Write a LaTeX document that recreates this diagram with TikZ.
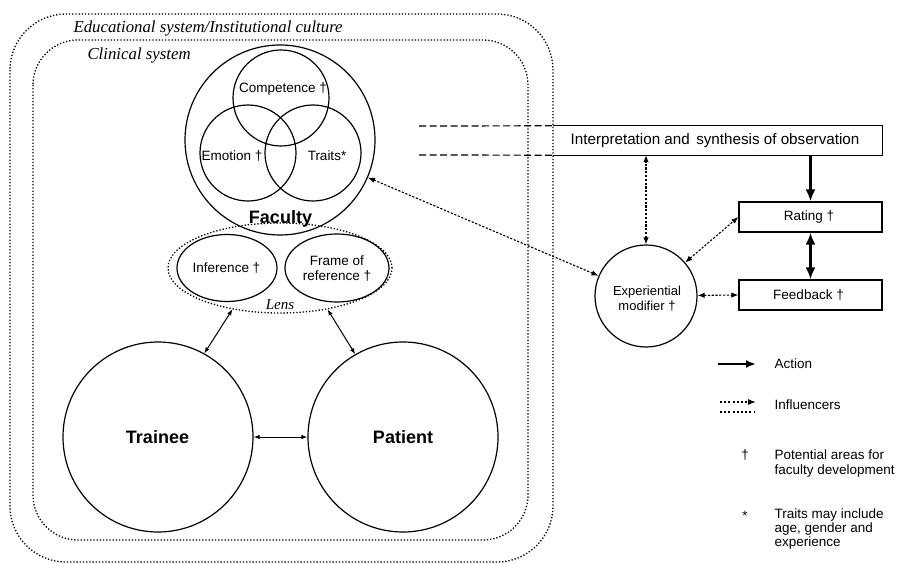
\documentclass[tikz,border=0pt]{standalone}
\usepackage{fontspec}
\setmainfont{Liberation Sans}
\newfontfamily\serifit{Liberation Serif}
\usetikzlibrary{shapes.geometric,arrows.meta}
\begin{document}
\begin{tikzpicture}[x=1pt,y=-1pt,
  sysbox/.style={line width=1.3pt, dash pattern=on 1.3pt off 1.9pt},
  ring/.style={circle, draw, line width=1.2pt, inner sep=0pt},
  oval/.style={ellipse, draw, line width=1.2pt, inner sep=0pt},
  boxn/.style={rectangle, draw, line width=1.2pt, inner sep=0pt, minimum width=143pt, minimum height=30pt},
  inf/.style={line width=1.1pt, dash pattern=on 2.2pt off 1.6pt, {Latex[length=7pt,width=5.5pt]}-{Latex[length=7pt,width=5.5pt]}},
  dotline/.style={line width=1.3pt, dash pattern=on 2pt off 2.2pt},
  dashline/.style={line width=1.2pt, dash pattern=on 7pt off 3.5pt},
  thinarr/.style={line width=1pt, {Latex[length=6pt,width=4.5pt]}-{Latex[length=6pt,width=4.5pt]}},
  lbl/.style={font=\fontsize{13.5}{15}\selectfont},
  sml/.style={font=\fontsize{13}{14.5}\selectfont},
  big/.style={font=\fontsize{18}{20}\selectfont\bfseries},
  sysl/.style={font=\fontsize{16.8}{19}\selectfont\serifit\itshape}
]
\useasboundingbox (0,0) rectangle (897,564);

% system boxes
\draw[sysbox, rounded corners=56pt] (10,14) rectangle (553,562);
\draw[sysbox, rounded corners=45pt] (33,40) rectangle (528,540);
\node[sysl, anchor=west] (edu) at (70,28) {Educational system/Institutional culture};
\node[sysl, anchor=west] (clin) at (84,55) {Clinical system};

% faculty
\node[ring, minimum size=190pt] (faculty) at (280,140) {};
\node[ring, minimum size=96pt] (comp) at (281,98) {};
\node[ring, minimum size=96pt] (emo) at (248,153) {};
\node[ring, minimum size=96pt] (trait) at (313,153) {};
\node[lbl] (tcomp) at (283,89) {Competence †};
\node[lbl] (temo) at (232,156) {Emotion †};
\node[lbl] (ttrait) at (327,156) {Traits*};
\node[big] (tfac) at (280.5,219) {Faculty};

% lens
\node[oval, minimum width=224pt, minimum height=90pt, draw=none] (lens) at (280,268) {};
\draw[sysbox] (lens.center) ellipse [x radius=112pt, y radius=45pt];
\node[oval, minimum width=100pt, minimum height=67pt] (infer) at (227,268) {};
\node[oval, minimum width=104pt, minimum height=68pt] (frame) at (337,268) {};
\node[lbl] (tinfer) at (226.5,268) {Inference †};
\node[lbl, align=center] (tframe) at (337,268.5) {Frame of\\reference †};
\node[font=\fontsize{15}{17}\selectfont\serifit\itshape] (tlens) at (280,305) {Lens};

% trainee / patient
\node[ring, minimum size=190pt] (trainee) at (158,437) {};
\node[ring, minimum size=190pt] (patient) at (403,437) {};
\node[big] (ttrainee) at (157.5,437) {Trainee};
\node[big] (tpatient) at (403,437) {Patient};
\draw[thinarr] (trainee) -- (patient);
\draw[thinarr] (lens.221) -- (trainee.61);
\draw[thinarr] (lens.319) -- (patient.120);

% right side
\node[rectangle, draw=none, inner sep=0pt, minimum width=329pt, minimum height=29pt] (interp) at (717.5,140.5) {};
\draw[line width=1.2pt] (interp.north west) -- (interp.north east) -- (interp.south east) -- (interp.south west);
\node[font=\fontsize{15.2}{17}\selectfont] (tinterp) at (715,141) {Interpretation and\hspace{0.15em} synthesis of observation};
\coordinate (dl1) at (419,126);
\coordinate (dl2) at (419,155);
\draw[dashline] (dl1) -- (interp.north west);
\draw[dashline] (dl2) -- (interp.south west);

\node[boxn] (rating) at (810.5,217) {};
\node[lbl] (trating) at (809,217) {Rating †};
\node[boxn] (feedback) at (810.5,295) {};
\node[lbl] (tfeed) at (808.5,295) {Feedback †};

\node[ring, minimum size=102pt] (exp) at (646,296) {};
\node[sml, align=center] (texp) at (647,298.5) {Experiential\\modifier †};

\draw[line width=2.6pt, -{Latex[length=12pt,width=10pt]}] (interp.south -| rating.north) -- (rating.north);
\draw[line width=2.6pt, {Latex[length=12pt,width=10pt]}-{Latex[length=12pt,width=10pt]}] (rating.south) -- (feedback.north);

\draw[inf] (exp.north) -- (exp.north |- interp.south);
\draw[inf] (exp) -- (rating.west);
\draw[inf] (exp) -- (feedback.west);
\draw[inf] (faculty) -- (exp);

% legend
\coordinate (actA) at (718,364);
\coordinate (actB) at (756,364);
\draw[line width=2.4pt, -{Latex[length=10pt,width=8pt]}] (actA) -- (actB);
\node[lbl, anchor=west] (tact) at (771,364) {Action};
\coordinate (infA) at (720,402);
\coordinate (infB) at (756,402);
\coordinate (infC) at (720,412);
\coordinate (infD) at (754,412);
\draw[dotline, -{Latex[length=8pt,width=6pt]}] (infA) -- (infB);
\draw[dotline] (infC) -- (infD);
\node[lbl, anchor=west] (tinf) at (771,405) {Influencers};
\node[lbl] (dag) at (745,455) {†};
\node[lbl, anchor=west, align=left] (tdag) at (771,464) {Potential areas for\\faculty development};
\node[lbl] (ast) at (745,516) {*};
\node[lbl, anchor=west, align=left, font=\fontsize{13.5}{14}\selectfont] (tast) at (771,529.5) {Traits may include\\age, gender and\\experience};
\end{tikzpicture}
\end{document}
